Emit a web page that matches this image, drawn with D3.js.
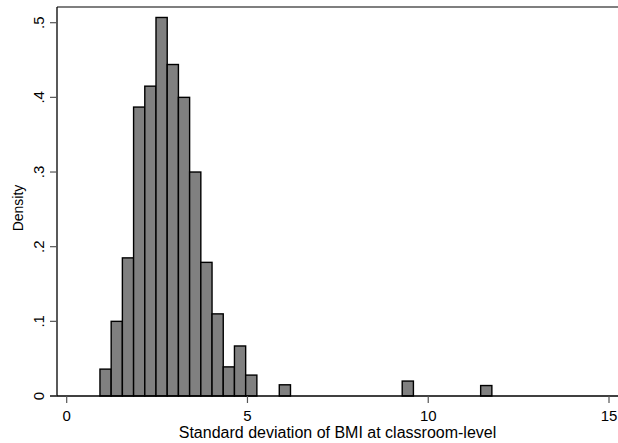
<!DOCTYPE html>
<html lang="en">
<head>
<meta charset="UTF-8">
<title>SD of BMI histogram</title>
<script src="https://cdn.jsdelivr.net/npm/d3@7"></script>
<style>
	body { margin: 0; background: #fff; }
	svg text { font-family: "Liberation Sans", Arial, sans-serif; fill: #000; }
</style>
</head>
<body>
<div id="viz"></div>
<script>
// bin left edges and density heights
const binLeft = [0.92, 1.23, 1.54, 1.85, 2.16, 2.47, 2.78, 3.09, 3.40, 3.71, 4.02, 4.33, 4.64, 4.95, 5.88, 9.28, 11.45];
const density = [0.036, 0.100, 0.185, 0.387, 0.415, 0.507, 0.444, 0.400, 0.300, 0.179, 0.110, 0.039, 0.067, 0.028, 0.015, 0.020, 0.014];
const binWidth = 0.31;
const xTicks = [0, 5, 10, 15];
const yTicks = [0, 0.1, 0.2, 0.3, 0.4, 0.5];
const yTickLabels = ['0', '.1', '.2', '.3', '.4', '.5'];

const W = 618, H = 443;
const plotL = 57, plotT = 7, plotR = 618, plotB = 396;

const svg = d3.select('#viz').append('svg')
	.attr('width', W).attr('height', H);

const x = d3.scaleLinear().domain([0, 15]).range([66.7, 609]);
const y = d3.scaleLinear().domain([0, 0.5]).range([plotB, 22.7]);

// bars
svg.append('g').selectAll('rect')
	.data(binLeft.map((b, i) => ({x0: b, d: density[i]})))
	.enter().append('rect')
	.attr('x', d => x(d.x0))
	.attr('width', d => x(d.x0 + binWidth) - x(d.x0))
	.attr('y', d => y(d.d))
	.attr('height', d => y(0) - y(d.d))
	.attr('fill', '#808080')
	.attr('stroke', '#000')
	.attr('stroke-width', 1.4);

// top border of plot region
svg.append('line')
	.attr('x1', plotL).attr('x2', plotR)
	.attr('y1', plotT).attr('y2', plotT)
	.attr('stroke', '#7f7f7f').attr('stroke-width', 2);

// x axis
const gx = svg.append('g').attr('transform', 'translate(0,' + plotB + ')');
gx.append('line').attr('x1', plotL - 7).attr('x2', plotR)
	.attr('stroke', '#000').attr('stroke-width', 1.3);
gx.selectAll('.tk').data(xTicks).enter().append('line')
	.attr('x1', d => x(d)).attr('x2', d => x(d))
	.attr('y1', 0).attr('y2', 7)
	.attr('stroke', '#555').attr('stroke-width', 1.2);
gx.selectAll('.lb').data(xTicks).enter().append('text')
	.attr('x', d => x(d)).attr('y', 25)
	.attr('text-anchor', 'middle')
	.style('font-size', '15px')
	.text(d => d);

svg.append('text')
	.attr('x', (plotL + plotR) / 2).attr('y', 438)
	.attr('text-anchor', 'middle')
	.style('font-size', '16px')
	.text('Standard deviation of BMI at classroom-level');

// y axis
const gy = svg.append('g').attr('transform', 'translate(' + plotL + ',0)');
gy.append('line').attr('y1', plotT).attr('y2', plotB)
	.attr('stroke', '#000').attr('stroke-width', 1.3);
gy.selectAll('.tk').data(yTicks).enter().append('line')
	.attr('y1', d => y(d)).attr('y2', d => y(d))
	.attr('x1', -7).attr('x2', 0)
	.attr('stroke', '#555').attr('stroke-width', 1.2);
gy.selectAll('.lb').data(yTicks).enter().append('text')
	.attr('transform', d => 'translate(-13,' + y(d) + ') rotate(-90)')
	.attr('text-anchor', 'middle')
	.style('font-size', '15px')
	.text((d, i) => yTickLabels[i]);

svg.append('text')
	.attr('transform', 'translate(23,' + 208 + ') rotate(-90)')
	.attr('text-anchor', 'middle')
	.style('font-size', '14px')
	.text('Density');
</script>
</body>
</html>
